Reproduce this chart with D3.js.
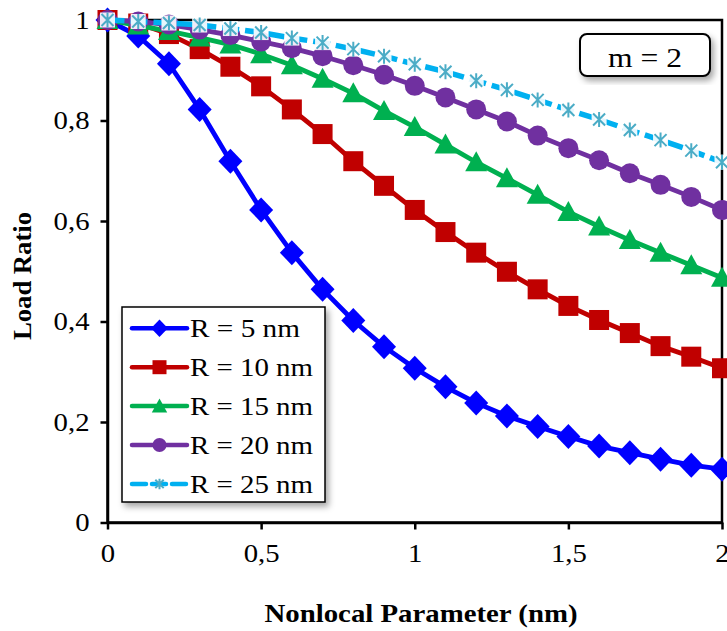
<!DOCTYPE html>
<html><head><meta charset="utf-8">
<script src="https://cdn.jsdelivr.net/npm/d3@7"></script>
<style>
body{margin:0;background:#fff}
svg{display:block}
text{font-family:"Liberation Serif","Times New Roman",Tinos,serif;fill:#000}
</style>
</head><body>
<script>
// ---- data ----
const xValues = [0,0.1,0.2,0.3,0.4,0.5,0.6,0.7,0.8,0.9,1,1.1,1.2,1.3,1.4,1.5,1.6,1.7,1.8,1.9,2];
const r5  = [1,0.968,0.913,0.822,0.719,0.622,0.537,0.464,0.402,0.350,0.307,0.270,0.238,0.212,0.191,0.171,0.152,0.139,0.126,0.114,0.106];
const r10 = [1,0.993,0.972,0.942,0.907,0.868,0.822,0.773,0.719,0.670,0.622,0.578,0.537,0.499,0.464,0.431,0.403,0.377,0.351,0.330,0.307];
const r15 = [1,0.989,0.978,0.965,0.951,0.932,0.910,0.883,0.854,0.819,0.787,0.752,0.717,0.685,0.652,0.618,0.589,0.562,0.537,0.512,0.487];
const r20 = [1,0.997,0.991,0.981,0.970,0.957,0.944,0.928,0.910,0.891,0.869,0.846,0.822,0.798,0.770,0.745,0.721,0.695,0.672,0.648,0.622];
const r25 = [1,0.997,0.994,0.990,0.983,0.975,0.964,0.955,0.942,0.928,0.912,0.897,0.879,0.861,0.841,0.821,0.802,0.781,0.761,0.740,0.717];
const seriesNames = ["R = 5 nm","R = 10 nm","R = 15 nm","R = 20 nm","R = 25 nm"];
const xTicks = [0,0.5,1,1.5,2];
const yTicks = [0,0.2,0.4,0.6,0.8,1];
const xTitle = "Nonlocal Parameter (nm)";
const yTitle = "Load Ratio";
const boxLabel = "m = 2";

// ---- styles ----
const seriesData = [r5,r10,r15,r20,r25];
const lineColors = ["#0000FF","#C00000","#00B050","#7030A0","#00B0F0"];
const markerColors = ["#0000FF","#C00000","#00B050","#7030A0","#4BACC6"];
const markerTypes = ["diamond","square","triangle","circle","star"];

const W = 727, H = 631;
const svg = d3.select("body").append("svg").attr("width",W).attr("height",H);
const defs = svg.append("defs");
const f = defs.append("filter").attr("id","shadow").attr("x","-20%").attr("y","-20%").attr("width","140%").attr("height","140%");
f.append("feDropShadow").attr("dx",3).attr("dy",4).attr("stdDeviation",3).attr("flood-color","#000").attr("flood-opacity",0.35);

const x = d3.scaleLinear().domain([0,2]).range([107.5,722]);
const y = d3.scaleLinear().domain([0,1]).range([522.5,20]);
const fmt = d => String(d).replace(".",",");

function fitWidth(sel,w){
  sel.attr("textLength",w).attr("lengthAdjust","spacingAndGlyphs");
}
const numWidth = s => [...s].reduce((a,c)=>a+(c===","?0.25:0.5),0)*25*1.15;

// plot frame
svg.append("rect").attr("x",x(0)).attr("y",y(1)).attr("width",x(2)-x(0)).attr("height",y(0)-y(1))
  .attr("fill","none").attr("stroke","#000").attr("stroke-width",2.5);

// axes
const gy = svg.append("g").attr("transform",`translate(${x(0)},0)`)
  .call(d3.axisLeft(y).tickValues(yTicks).tickFormat(fmt).tickSize(7).tickSizeOuter(0).tickPadding(11));
const gx = svg.append("g").attr("transform",`translate(0,${y(0)})`)
  .call(d3.axisBottom(x).tickValues(xTicks).tickFormat(fmt).tickSize(7).tickSizeOuter(0).tickPadding(14));
[gx,gy].forEach(g=>{
  g.attr("font-family",null);
  g.select(".domain").attr("stroke","#000").attr("stroke-width",2.5);
  g.selectAll(".tick line").attr("stroke","#000").attr("stroke-width",2.5);
  g.selectAll(".tick text").attr("font-size",26).attr("fill","#000")
    .each(function(){ const t=this.textContent; d3.select(this).attr("textLength",numWidth(t)).attr("lengthAdjust","spacingAndGlyphs"); });
});

// marker drawing
function drawMarker(g, type, color, s){
  if(type==="diamond"){
    g.append("path").attr("d",`M0,${-12.5*s}L${12*s},0L0,${12.5*s}L${-12*s},0Z`).attr("fill",color);
  } else if(type==="square"){
    g.append("rect").attr("x",-10*s).attr("y",-10*s).attr("width",20*s).attr("height",20*s).attr("fill",color);
  } else if(type==="triangle"){
    g.append("path").attr("d",`M0,${-11*s}L${11*s},${9*s}L${-11*s},${9*s}Z`).attr("fill",color);
  } else if(type==="circle"){
    g.append("circle").attr("r",10*s).attr("fill",color);
  } else if(type==="star"){
    if(s>0.8) g.append("rect").attr("x",-7.5).attr("y",-7.5).attr("width",15).attr("height",15).attr("fill","#fff").attr("opacity",0.9);
    const a = 7.5*s, b = 6*s;
    g.append("path").attr("d",`M0,${-a}V${a}M${-b},${-b}L${b},${b}M${b},${-b}L${-b},${b}`)
      .attr("stroke",color).attr("stroke-width",2).attr("fill","none");
  }
}

const line = d3.line().x((d,i)=>x(xValues[i])).y(d=>y(d));
seriesData.forEach((vals,si)=>{
  const g = svg.append("g");
  g.append("path").datum(vals).attr("d",line).attr("fill","none")
    .attr("stroke",lineColors[si]).attr("stroke-width",si===4?5.5:4.8)
    .attr("stroke-linejoin","round")
    .attr("stroke-dasharray",si===4?"17,6":null);
  vals.forEach((v,i)=>{
    const mg = g.append("g").attr("transform",`translate(${x(xValues[i])},${y(v)})`);
    drawMarker(mg, markerTypes[si], markerColors[si], 1);
  });
});

// legend
const lg = svg.append("g");
lg.append("rect").attr("x",122).attr("y",307).attr("width",203).attr("height",195)
  .attr("fill","#fff").attr("stroke","#000").attr("stroke-width",1.5).attr("filter","url(#shadow)");
seriesNames.forEach((name,i)=>{
  const cy = 328.3 + i*38.9;
  lg.append("line").attr("x1",132).attr("x2",187).attr("y1",cy).attr("y2",cy)
    .attr("stroke",lineColors[i]).attr("stroke-width",4.5).attr("stroke-linecap","round")
    .attr("stroke-dasharray",i===4?"14,6":null);
  const mg = lg.append("g").attr("transform",`translate(159.5,${cy})`);
  drawMarker(mg, markerTypes[i], markerColors[i], 0.7);
  const t = lg.append("text").attr("x",190).attr("y",cy+8.6).attr("font-size",25).text(name);
  fitWidth(t, name.length===8?110:123);
});

// m = 2 box
svg.append("rect").attr("x",580).attr("y",34).attr("width",130).attr("height",42).attr("rx",7)
  .attr("fill","#fff").attr("stroke","#000").attr("stroke-width",2).attr("filter","url(#shadow)");
fitWidth(svg.append("text").attr("x",645).attr("y",67).attr("text-anchor","middle").attr("font-size",27).text(boxLabel),74);

// axis titles
fitWidth(svg.append("text").attr("x",421).attr("y",622).attr("text-anchor","middle")
  .attr("font-size",25).attr("font-weight","bold").text(xTitle),313);
fitWidth(svg.append("text").attr("transform","translate(31,276) rotate(-90)").attr("text-anchor","middle")
  .attr("font-size",25).attr("font-weight","bold").text(yTitle),128);
</script>
</body></html>
